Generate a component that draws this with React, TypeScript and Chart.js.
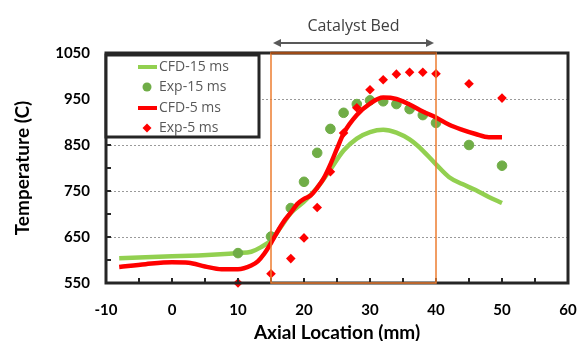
import React, { useEffect, useRef } from 'react';
import { Chart, registerables } from 'chart.js';

Chart.register(...registerables);

// CFD-15 ms (line)
const cfd15X = [-8, -4, 0, 4, 8, 10, 12, 13.5, 15, 16.5, 18, 20, 22, 24, 26, 28, 30, 32, 34, 36, 38, 40, 42, 44, 46, 48, 50];
const cfd15Y = [604, 606, 608, 610, 613, 615, 618, 628, 643, 672, 702, 727, 757, 797, 838, 864, 878, 883, 877, 862, 838, 808, 780, 765, 752, 737, 724];

// Exp-15 ms (points)
const exp15X = [10, 15, 18, 20, 22, 24, 26, 28, 30, 32, 34, 36, 38, 40, 45, 50];
const exp15Y = [615, 651, 713, 770, 833, 885, 920, 939, 947, 945, 939, 928, 915, 898, 850, 805];

// CFD-5 ms (line)
const cfd5X = [-8, -4, 0, 2.5, 5, 7.5, 10, 12, 13, 14, 15, 16, 17, 18, 19, 20, 21, 22, 23, 24, 25, 26, 28, 30, 32, 34, 36, 38, 40, 42, 44, 46, 48, 50];
const cfd5Y = [585, 591, 595, 594, 586, 580, 580, 588, 597, 614, 637, 662, 685, 703, 722, 733, 740, 757, 778, 808, 842, 875, 915, 940, 953, 950, 938, 923, 910, 894, 883, 874, 867, 867];

// Exp-5 ms (points)
const exp5X = [10, 15, 18, 20, 22, 24, 26, 28, 30, 32, 34, 36, 38, 40, 45, 50];
const exp5Y = [550, 570, 603, 648, 714, 792, 876, 931, 970, 992, 1004, 1008, 1008, 1005, 983, 952];

const seriesLabels = ['CFD-15 ms', 'Exp-15 ms', 'CFD-5 ms', 'Exp-5 ms'];
const bedStart = 15;
const bedEnd = 40;
const bedLabel = 'Catalyst Bed';
const xMin = -10, xMax = 60, xStep = 10, xMinorStep = 5;
const yMin = 550, yMax = 1050, yStep = 100, yMinorStep = 50;
const xTitle = 'Axial Location (mm)';
const yTitle = 'Temperature (C)';

const BOLD = 'Lato, "Open Sans", sans-serif';
const REG = '"Open Sans", "Noto Sans", sans-serif';
const GREEN_LINE = '#92D050';
const GREEN_DOT = '#70AD47';
const RED = '#FF0000';
const AXIS = '#262626';

const pts = (xs: number[], ys: number[]) => xs.map((x, i) => ({ x, y: ys[i] }));

export default function App() {
  const ref = useRef<HTMLCanvasElement>(null);

  useEffect(() => {
    const canvas = ref.current!;
    const decor = {
      id: 'decor',
      beforeDatasetsDraw(chart: any) {
        const { ctx, chartArea: a, scales } = chart;
        const ys = scales.y;
        ctx.save();
        ctx.strokeStyle = '#9a9a9a';
        ctx.lineWidth = 1;
        ctx.setLineDash([2, 2]);
        for (let v = yMin + yStep; v < yMax; v += yStep) {
          const py = Math.round(ys.getPixelForValue(v)) + 0.5;
          ctx.beginPath();
          ctx.moveTo(a.left, py);
          ctx.lineTo(a.right, py);
          ctx.stroke();
        }
        ctx.restore();
      },
      afterDatasetsDraw(chart: any) {
        const { ctx, chartArea: a, scales } = chart;
        const xs = scales.x, ys = scales.y;
        ctx.save();
        // frame
        ctx.strokeStyle = AXIS;
        ctx.lineWidth = 3;
        ctx.strokeRect(a.left, a.top, a.right - a.left, a.bottom - a.top);
        // inward ticks
        ctx.lineWidth = 2;
        for (let v = yMin + yMinorStep; v < yMax; v += yMinorStep) {
          const py = ys.getPixelForValue(v);
          ctx.beginPath();
          ctx.moveTo(a.left, py);
          ctx.lineTo(a.left + 5, py);
          ctx.stroke();
        }
        for (let v = xMin + xMinorStep; v < xMax; v += xMinorStep) {
          const px = xs.getPixelForValue(v);
          ctx.beginPath();
          ctx.moveTo(px, a.bottom);
          ctx.lineTo(px, a.bottom - 5);
          ctx.stroke();
        }
        // catalyst bed rectangle
        const bx1 = xs.getPixelForValue(bedStart);
        const bx2 = xs.getPixelForValue(bedEnd);
        ctx.strokeStyle = '#ED7D31';
        ctx.lineWidth = 1.5;
        ctx.strokeRect(bx1, a.top, bx2 - bx1, a.bottom - a.top);
        ctx.strokeStyle = '#9C4A16';
        ctx.lineWidth = 2.5;
        ctx.beginPath();
        ctx.moveTo(bx1, a.top);
        ctx.lineTo(bx2, a.top);
        ctx.stroke();
        // arrow
        const ay = a.top - 10;
        ctx.strokeStyle = '#595959';
        ctx.fillStyle = '#595959';
        ctx.lineWidth = 2;
        ctx.beginPath();
        ctx.moveTo(bx1 + 6, ay);
        ctx.lineTo(bx2 - 6, ay);
        ctx.stroke();
        ctx.beginPath();
        ctx.moveTo(bx1 + 2, ay);
        ctx.lineTo(bx1 + 10, ay - 4);
        ctx.lineTo(bx1 + 10, ay + 4);
        ctx.closePath();
        ctx.fill();
        ctx.beginPath();
        ctx.moveTo(bx2 - 2, ay);
        ctx.lineTo(bx2 - 10, ay - 4);
        ctx.lineTo(bx2 - 10, ay + 4);
        ctx.closePath();
        ctx.fill();
        ctx.fillStyle = '#404040';
        ctx.font = `16px ${REG}`;
        ctx.textAlign = 'center';
        ctx.textBaseline = 'middle';
        ctx.fillText(bedLabel, (bx1 + bx2) / 2, a.top - 27);
        ctx.restore();
      },
      afterDraw(chart: any) {
        const { ctx, chartArea: a } = chart;
        const L = a.left, T = a.top + 2;
        const W = 153, H = 82;
        ctx.save();
        ctx.fillStyle = '#ffffff';
        ctx.fillRect(L, T, W, H);
        ctx.strokeStyle = AXIS;
        ctx.lineWidth = 3;
        ctx.strokeRect(L, T, W, H);
        const sx = L + 41;
        const rows = [T + 12, T + 32, T + 53, T + 73];
        ctx.lineWidth = 4;
        ctx.strokeStyle = GREEN_LINE;
        ctx.beginPath(); ctx.moveTo(sx - 9, rows[0]); ctx.lineTo(sx + 10, rows[0]); ctx.stroke();
        ctx.strokeStyle = RED;
        ctx.beginPath(); ctx.moveTo(sx - 9, rows[2]); ctx.lineTo(sx + 10, rows[2]); ctx.stroke();
        ctx.fillStyle = GREEN_DOT;
        ctx.beginPath(); ctx.arc(sx, rows[1], 4.5, 0, Math.PI * 2); ctx.fill();
        ctx.fillStyle = RED;
        ctx.beginPath();
        ctx.moveTo(sx, rows[3] - 4.5); ctx.lineTo(sx + 4.5, rows[3]); ctx.lineTo(sx, rows[3] + 4.5); ctx.lineTo(sx - 4.5, rows[3]);
        ctx.closePath(); ctx.fill();
        ctx.fillStyle = '#595959';
        ctx.font = `14px ${REG}`;
        ctx.textAlign = 'left';
        ctx.textBaseline = 'middle';
        seriesLabels.forEach((s, i) => ctx.fillText(s, L + 53, rows[i]));
        ctx.restore();
      },
    };

    const chart = new Chart(canvas, {
      type: 'scatter',
      data: {
        datasets: [
          {
            label: seriesLabels[0], data: pts(cfd15X, cfd15Y), showLine: true,
            borderColor: GREEN_LINE, borderWidth: 4.5, pointRadius: 0, cubicInterpolationMode: 'monotone', order: 4,
          },
          {
            label: seriesLabels[1], data: pts(exp15X, exp15Y), showLine: false,
            backgroundColor: GREEN_DOT, borderColor: GREEN_DOT, pointRadius: 4.8, pointStyle: 'circle', order: 3, clip: false,
          },
          {
            label: seriesLabels[2], data: pts(cfd5X, cfd5Y), showLine: true,
            borderColor: RED, borderWidth: 4.5, pointRadius: 0, cubicInterpolationMode: 'monotone', order: 2,
          },
          {
            label: seriesLabels[3], data: pts(exp5X, exp5Y), showLine: false,
            backgroundColor: RED, borderColor: RED, pointRadius: 4.8, borderWidth: 0, pointStyle: 'rectRot', order: 1, clip: false,
          },
        ],
      } as any,
      options: {
        responsive: false,
        animation: false,
        layout: { padding: { top: 53, right: 10, left: 0, bottom: 0 } },
        plugins: { legend: { display: false }, tooltip: { enabled: false } },
        scales: {
          x: {
            type: 'linear', min: xMin, max: xMax,
            grid: { display: false, drawTicks: false },
            border: { display: false },
            ticks: { stepSize: xStep, padding: 18, color: '#000', font: { family: BOLD, size: 15, weight: 'bold' }, callback: (v: any) => String(v) },
            title: { display: true, text: xTitle, color: '#000', padding: { top: 0, bottom: -3 }, font: { family: BOLD, size: 19, weight: 'bold' } },
            afterFit: (s: any) => { s.height = 58; s.paddingLeft = 0; s.paddingRight = 0; },
          },
          y: {
            type: 'linear', min: yMin, max: yMax,
            grid: { display: false, drawTicks: false },
            border: { display: false },
            ticks: { stepSize: yStep, padding: 16, color: '#000', font: { family: BOLD, size: 15, weight: 'bold' }, callback: (v: any) => String(v) },
            title: { display: true, text: yTitle, color: '#000', padding: { top: 11, bottom: 0 }, font: { family: BOLD, size: 19, weight: 'bold' } },
            afterFit: (s: any) => { s.width = 106; s.paddingTop = 0; s.paddingBottom = 0; },
          },
        },
      } as any,
      plugins: [decor],
    });
    return () => chart.destroy();
  }, []);

  return (
    <div style={{ position: 'fixed', left: 0, top: 0, width: 578, height: 341, background: '#fff' }}>
      <canvas ref={ref} width={578} height={341} style={{ display: 'block' }} />
    </div>
  );
}
